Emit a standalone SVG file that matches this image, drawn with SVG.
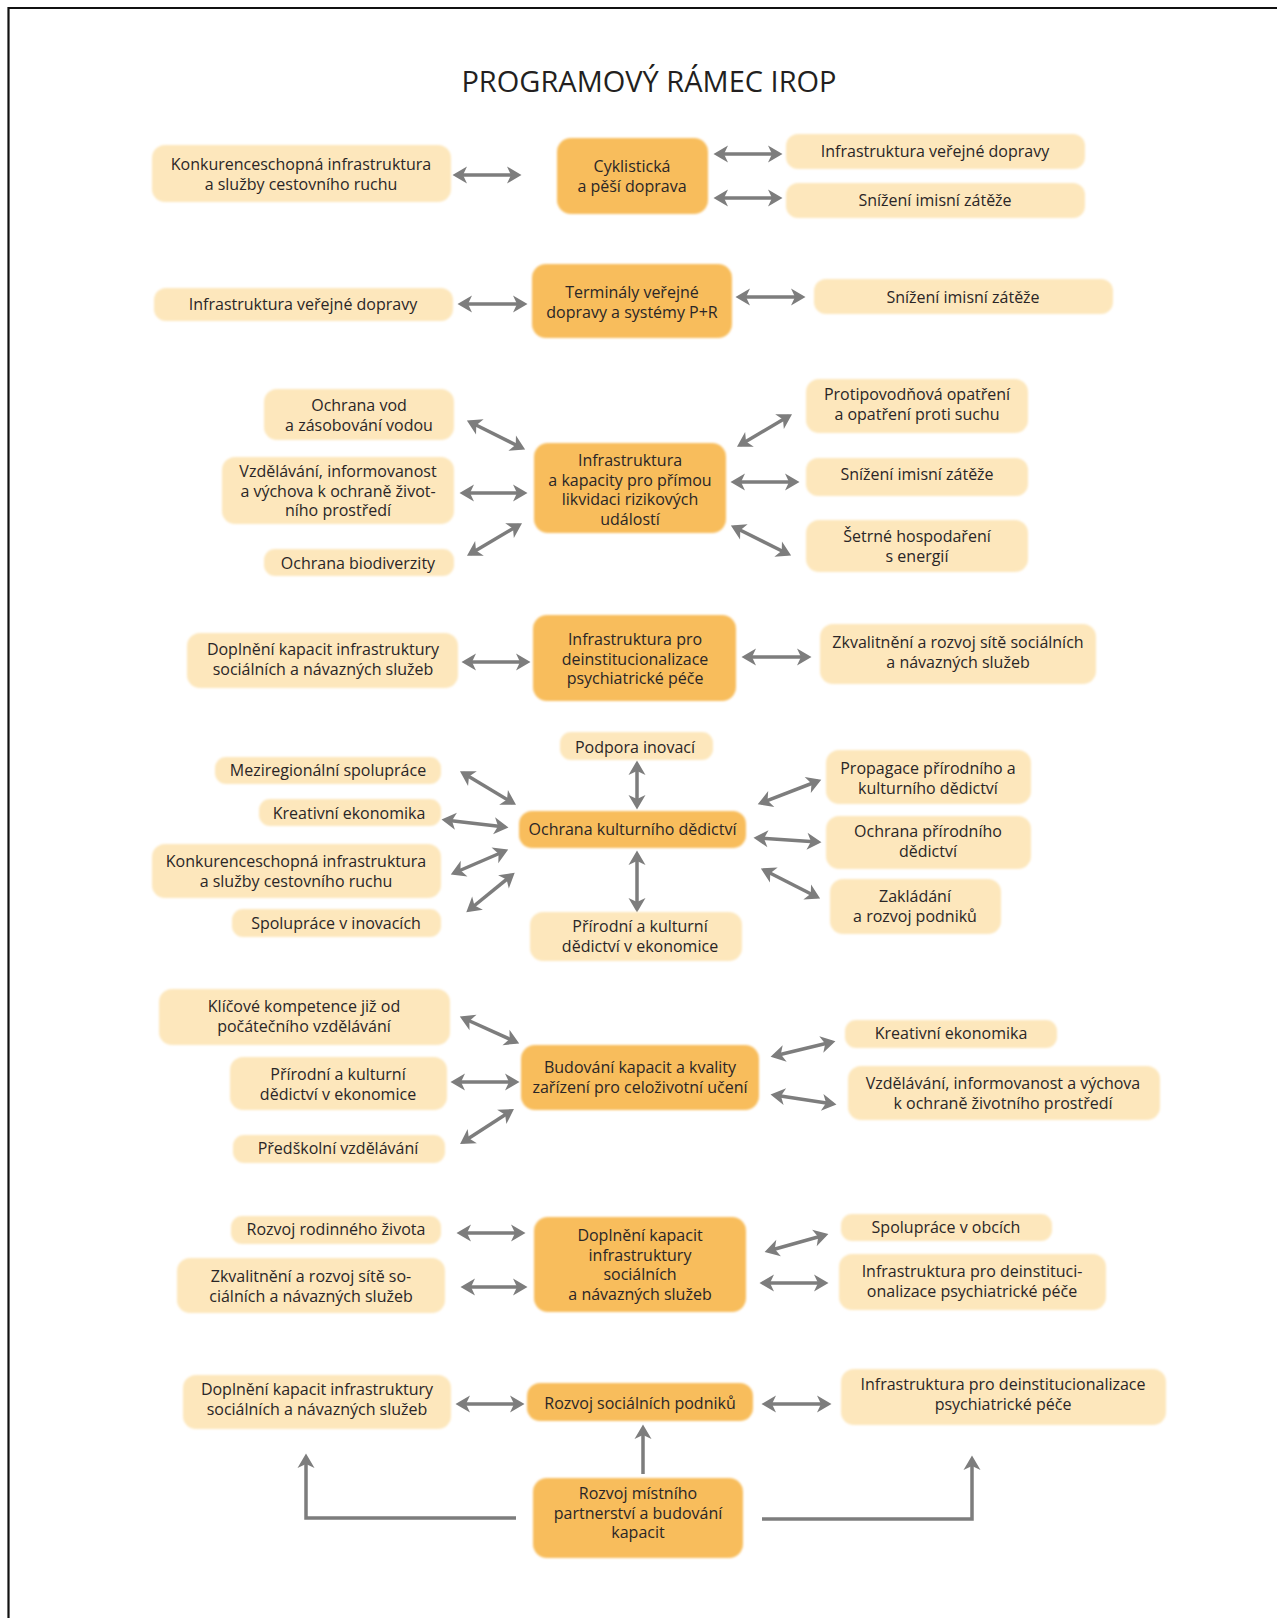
<svg xmlns="http://www.w3.org/2000/svg" width="1277" height="1618" viewBox="0 0 1277 1618">
<style>
.t{font-family:"Open Sans","Noto Sans","DejaVu Sans",sans-serif;font-size:16px;fill:#2a2627;text-anchor:middle}
.title{font-family:"Open Sans","Noto Sans","DejaVu Sans",sans-serif;font-size:29px;fill:#231f20;text-anchor:middle}
.lb{fill:#fde7bc;filter:url(#soft)}
.ob{fill:#f8bd5c;filter:url(#soft)}
.c{fill:none;stroke:#7d7d7d;stroke-width:3.5;marker-start:url(#ah);marker-end:url(#ah)}
.s{fill:none;stroke:#7d7d7d;stroke-width:3.5;marker-end:url(#ah)}
</style>
<defs>
<filter id="soft" x="-5%" y="-10%" width="110%" height="120%"><feGaussianBlur stdDeviation="1"/></filter>
<marker id="ah" viewBox="-1 -10 18 20" refX="11" refY="0" markerWidth="18" markerHeight="20" markerUnits="userSpaceOnUse" orient="auto-start-reverse"><path d="M0,-8.5 L14.5,0 L0,8.5 L4,0 Z" fill="#7d7d7d"/></marker>
</defs>
<rect x="0" y="0" width="1277" height="1618" fill="#ffffff"/>
<path d="M1277,8 H8.5 V1618" fill="none" stroke="#111" stroke-width="2.2"/>
<text class="title" x="649" y="92">PROGRAMOVÝ RÁMEC IROP</text>

<g id="connectors">
<line class="c" x1="456" y1="175" x2="518" y2="175"/>
<line class="c" x1="717" y1="154" x2="779" y2="154"/>
<line class="c" x1="717" y1="198" x2="779" y2="198"/>
<line class="c" x1="461" y1="304" x2="524" y2="304"/>
<line class="c" x1="739" y1="297" x2="802" y2="297"/>
<line class="c" x1="470" y1="422" x2="522" y2="448"/>
<line class="c" x1="463" y1="493" x2="524" y2="493"/>
<line class="c" x1="470" y1="554" x2="519" y2="525"/>
<line class="c" x1="740" y1="445" x2="789" y2="416"/>
<line class="c" x1="734" y1="482" x2="796" y2="482"/>
<line class="c" x1="734" y1="527" x2="788" y2="554"/>
<line class="c" x1="465" y1="662" x2="527" y2="662"/>
<line class="c" x1="745" y1="657" x2="808" y2="657"/>
<line class="c" x1="637" y1="764" x2="637" y2="806"/>
<line class="c" x1="637" y1="854" x2="637" y2="909"/>
<line class="c" x1="463" y1="773" x2="513" y2="803"/>
<line class="c" x1="445" y1="820" x2="505" y2="827"/>
<line class="c" x1="454" y1="873" x2="505" y2="851"/>
<line class="c" x1="469" y1="910" x2="512" y2="875"/>
<line class="c" x1="761" y1="803" x2="818" y2="781"/>
<line class="c" x1="757" y1="838" x2="818" y2="842"/>
<line class="c" x1="764" y1="870" x2="817" y2="897"/>
<line class="c" x1="463" y1="1018" x2="516" y2="1042"/>
<line class="c" x1="454" y1="1082" x2="516" y2="1082"/>
<line class="c" x1="463" y1="1142" x2="511" y2="1111"/>
<line class="c" x1="774" y1="1056" x2="832" y2="1042"/>
<line class="c" x1="774" y1="1095" x2="833" y2="1104"/>
<line class="c" x1="460" y1="1233" x2="522" y2="1233"/>
<line class="c" x1="464" y1="1287" x2="524" y2="1287"/>
<line class="c" x1="768" y1="1251" x2="825" y2="1235"/>
<line class="c" x1="763" y1="1283" x2="825" y2="1283"/>
<line class="c" x1="459" y1="1404" x2="521" y2="1404"/>
<line class="c" x1="765" y1="1404" x2="828" y2="1404"/>
<line class="s" x1="643" y1="1474" x2="643" y2="1428"/>
<polyline class="s" points="516,1518 306,1518 306,1457"/>
<polyline class="s" points="762,1519 972,1519 972,1459"/>
</g>

<g id="n1l"><rect class="lb" x="152" y="145" width="299" height="57" rx="13"/><text class="t" x="301" y="170">Konkurenceschopná infrastruktura<tspan x="301" dy="19.5">a služby cestovního ruchu</tspan></text></g>
<g id="n1c"><rect class="ob" x="557" y="138" width="151" height="76" rx="14"/><text class="t" x="632" y="172">Cyklistická<tspan x="632" dy="19.5">a pěší doprava</tspan></text></g>
<g id="n1r1"><rect class="lb" x="786" y="134" width="299" height="35" rx="12"/><text class="t" x="935" y="157">Infrastruktura veřejné dopravy</text></g>
<g id="n1r2"><rect class="lb" x="786" y="183" width="299" height="35" rx="12"/><text class="t" x="935" y="206">Snížení imisní zátěže</text></g>

<g id="n2l"><rect class="lb" x="154" y="288" width="299" height="33" rx="12"/><text class="t" x="303" y="310">Infrastruktura veřejné dopravy</text></g>
<g id="n2c"><rect class="ob" x="532" y="264" width="200" height="74" rx="14"/><text class="t" x="632" y="298">Terminály veřejné<tspan x="632" dy="19.5">dopravy a systémy P+R</tspan></text></g>
<g id="n2r"><rect class="lb" x="814" y="279" width="299" height="35" rx="12"/><text class="t" x="963" y="302.5">Snížení imisní zátěže</text></g>

<g id="n3l1"><rect class="lb" x="264" y="389" width="190" height="51" rx="13"/><text class="t" x="359" y="411">Ochrana vod<tspan x="359" dy="19.5">a zásobování vodou</tspan></text></g>
<g id="n3l2"><rect class="lb" x="222" y="457" width="232" height="67" rx="13"/><text class="t" x="338" y="477">Vzdělávání, informovanost<tspan x="338" dy="19.5">a výchova k ochraně život-</tspan><tspan x="338" dy="19.5">ního prostředí</tspan></text></g>
<g id="n3l3"><rect class="lb" x="264" y="549" width="190" height="27" rx="11"/><text class="t" x="358" y="568.5">Ochrana biodiverzity</text></g>
<g id="n3c"><rect class="ob" x="534" y="443" width="192" height="90" rx="14"/><text class="t" x="630" y="466">Infrastruktura<tspan x="630" dy="19.5">a kapacity pro přímou</tspan><tspan x="630" dy="19.5">likvidaci rizikových</tspan><tspan x="630" dy="19.5">událostí</tspan></text></g>
<g id="n3r1"><rect class="lb" x="806" y="379" width="222" height="54" rx="13"/><text class="t" x="917" y="400">Protipovodňová opatření<tspan x="917" dy="19.5">a opatření proti suchu</tspan></text></g>
<g id="n3r2"><rect class="lb" x="806" y="458" width="222" height="38" rx="12"/><text class="t" x="917" y="479.5">Snížení imisní zátěže</text></g>
<g id="n3r3"><rect class="lb" x="806" y="520" width="222" height="52" rx="13"/><text class="t" x="917" y="542">Šetrné hospodaření<tspan x="917" dy="19.5">s energií</tspan></text></g>

<g id="n4l"><rect class="lb" x="187" y="633" width="271" height="55" rx="13"/><text class="t" x="323" y="655">Doplnění kapacit infrastruktury<tspan x="323" dy="19.5">sociálních a návazných služeb</tspan></text></g>
<g id="n4c"><rect class="ob" x="533" y="615" width="203" height="86" rx="14"/><text class="t" x="635" y="645">Infrastruktura pro<tspan x="635" dy="19.5">deinstitucionalizace</tspan><tspan x="635" dy="19.5">psychiatrické péče</tspan></text></g>
<g id="n4r"><rect class="lb" x="820" y="624" width="276" height="60" rx="13"/><text class="t" x="958" y="648">Zkvalitnění a rozvoj sítě sociálních<tspan x="958" dy="19.5">a návazných služeb</tspan></text></g>

<g id="n5c"><rect class="ob" x="519" y="811" width="227" height="37" rx="13"/><text class="t" x="632.5" y="834.5">Ochrana kulturního dědictví</text></g>
<g id="n5t"><rect class="lb" x="560" y="732" width="153" height="28" rx="11"/><text class="t" x="635" y="752.5">Podpora inovací</text></g>
<g id="n5b"><rect class="lb" x="530" y="912" width="212" height="49" rx="13"/><text class="t" x="640" y="932">Přírodní a kulturní<tspan x="640" dy="19.5">dědictví v ekonomice</tspan></text></g>
<g id="n5l1"><rect class="lb" x="215" y="757" width="226" height="27" rx="11"/><text class="t" x="328" y="776">Meziregionální spolupráce</text></g>
<g id="n5l2"><rect class="lb" x="259" y="799" width="182" height="27" rx="11"/><text class="t" x="349" y="818.5">Kreativní ekonomika</text></g>
<g id="n5l3"><rect class="lb" x="152" y="844" width="289" height="54" rx="13"/><text class="t" x="296" y="867">Konkurenceschopná infrastruktura<tspan x="296" dy="19.5">a služby cestovního ruchu</tspan></text></g>
<g id="n5l4"><rect class="lb" x="232" y="909" width="209" height="28" rx="11"/><text class="t" x="336" y="928.5">Spolupráce v inovacích</text></g>
<g id="n5r1"><rect class="lb" x="826" y="750" width="205" height="54" rx="13"/><text class="t" x="928" y="774">Propagace přírodního a<tspan x="928" dy="19.5">kulturního dědictví</tspan></text></g>
<g id="n5r2"><rect class="lb" x="826" y="816" width="205" height="53" rx="13"/><text class="t" x="928" y="837">Ochrana přírodního<tspan x="928" dy="19.5">dědictví</tspan></text></g>
<g id="n5r3"><rect class="lb" x="830" y="879" width="171" height="55" rx="13"/><text class="t" x="915" y="902">Zakládání<tspan x="915" dy="19.5">a rozvoj podniků</tspan></text></g>

<g id="n6c"><rect class="ob" x="521" y="1045" width="238" height="65" rx="14"/><text class="t" x="640" y="1073">Budování kapacit a kvality<tspan x="640" dy="19.5">zařízení pro celoživotní učení</tspan></text></g>
<g id="n6l1"><rect class="lb" x="159" y="989" width="291" height="56" rx="13"/><text class="t" x="304" y="1012">Klíčové kompetence již od<tspan x="304" dy="19.5">počátečního vzdělávání</tspan></text></g>
<g id="n6l2"><rect class="lb" x="230" y="1057" width="217" height="53" rx="13"/><text class="t" x="338" y="1080">Přírodní a kulturní<tspan x="338" dy="19.5">dědictví v ekonomice</tspan></text></g>
<g id="n6l3"><rect class="lb" x="233" y="1135" width="212" height="28" rx="11"/><text class="t" x="338" y="1153.5">Předškolní vzdělávání</text></g>
<g id="n6r1"><rect class="lb" x="845" y="1020" width="212" height="28" rx="11"/><text class="t" x="951" y="1039">Kreativní ekonomika</text></g>
<g id="n6r2"><rect class="lb" x="848" y="1066" width="312" height="54" rx="13"/><text class="t" x="1003" y="1089">Vzdělávání, informovanost a výchova<tspan x="1003" dy="19.5">k ochraně životního prostředí</tspan></text></g>

<g id="n7c"><rect class="ob" x="534" y="1217" width="212" height="95" rx="14"/><text class="t" x="640" y="1241">Doplnění kapacit<tspan x="640" dy="19.5">infrastruktury</tspan><tspan x="640" dy="19.5">sociálních</tspan><tspan x="640" dy="19.5">a návazných služeb</tspan></text></g>
<g id="n7l1"><rect class="lb" x="231" y="1216" width="210" height="28" rx="11"/><text class="t" x="336" y="1235">Rozvoj rodinného života</text></g>
<g id="n7l2"><rect class="lb" x="177" y="1258" width="268" height="55" rx="13"/><text class="t" x="311" y="1282">Zkvalitnění a rozvoj sítě so-<tspan x="311" dy="19.5">ciálních a návazných služeb</tspan></text></g>
<g id="n7r1"><rect class="lb" x="841" y="1214" width="211" height="27" rx="11"/><text class="t" x="946" y="1233">Spolupráce v obcích</text></g>
<g id="n7r2"><rect class="lb" x="839" y="1254" width="267" height="56" rx="13"/><text class="t" x="972" y="1277">Infrastruktura pro deinstituci-<tspan x="972" dy="19.5">onalizace psychiatrické péče</tspan></text></g>

<g id="n8c"><rect class="ob" x="527" y="1383" width="226" height="38" rx="13"/><text class="t" x="640" y="1408.5">Rozvoj sociálních podniků</text></g>
<g id="n8l"><rect class="lb" x="183" y="1375" width="268" height="54" rx="13"/><text class="t" x="317" y="1395">Doplnění kapacit infrastruktury<tspan x="317" dy="19.5">sociálních a návazných služeb</tspan></text></g>
<g id="n8r"><rect class="lb" x="841" y="1369" width="325" height="56" rx="13"/><text class="t" x="1003" y="1390">Infrastruktura pro deinstitucionalizace<tspan x="1003" dy="19.5">psychiatrické péče</tspan></text></g>

<g id="n9c"><rect class="ob" x="533" y="1478" width="210" height="80" rx="14"/><text class="t" x="638" y="1499">Rozvoj místního<tspan x="638" dy="19.5">partnerství a budování</tspan><tspan x="638" dy="19.5">kapacit</tspan></text></g>
</svg>
